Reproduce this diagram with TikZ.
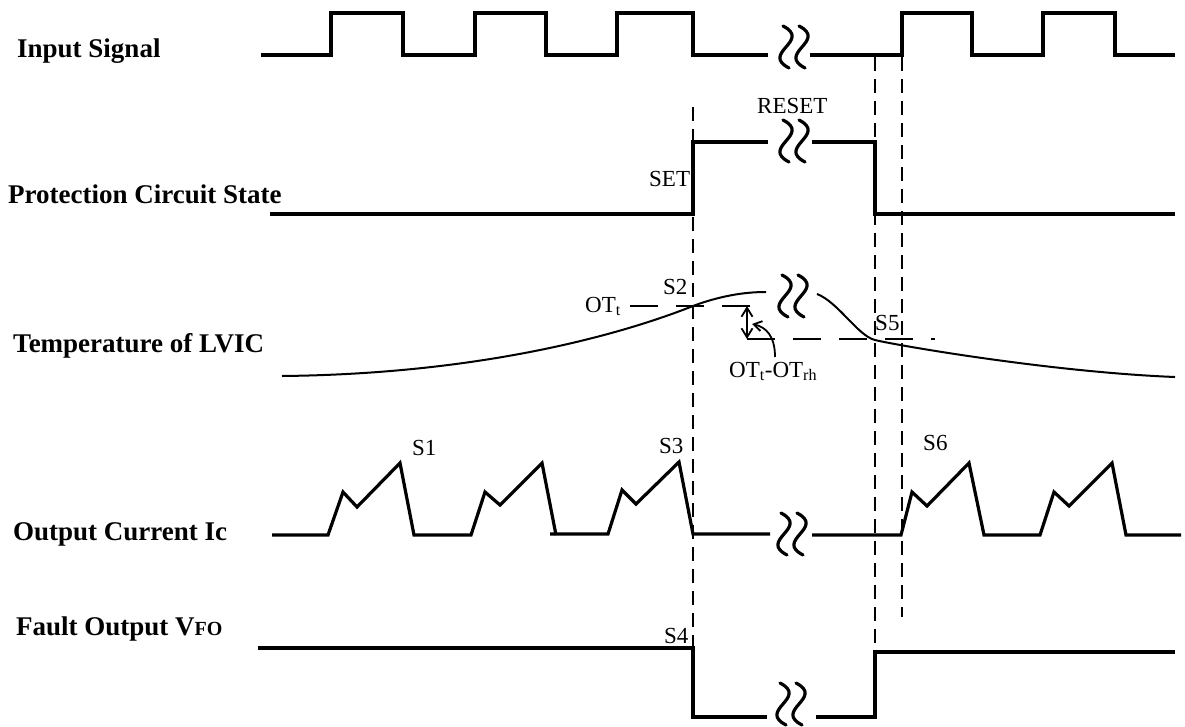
\documentclass[tikz,border=0pt]{standalone}
\usepackage{fontspec}
\setmainfont{Liberation Serif}
\usetikzlibrary{arrows.meta}
\begin{document}
\begin{tikzpicture}[x=1pt,y=-1pt,
  sig/.style={line width=3.2pt,line join=miter},
  temp/.style={line width=2pt},
  vdash/.style={line width=1.8pt,dash pattern=on 14pt off 8pt},
  hdash/.style={line width=2pt,dash pattern=on 28pt off 18pt},
  brkst/.style={line width=3.2pt,line cap=round},
  lbl/.style={font=\fontsize{27}{30}\selectfont\bfseries,anchor=base west,inner sep=0pt},
  ann/.style={font=\fontsize{23}{26}\selectfont,anchor=base west,inner sep=0pt},
  brk/.pic={
    \draw[brkst] (-11,-21) .. controls (18,-6) and (-34,6) .. (-5,21);
    \draw[brkst] (5,-21) .. controls (34,-6) and (-18,6) .. (11,21);
  }]
\useasboundingbox (0,0) rectangle (1185,726);

% labels
\node[lbl] (lin) at (17,57) {Input Signal};
\node[lbl] (lpc) at (8,203) {Protection Circuit State};
\node[lbl] (ltemp) at (13,352) {Temperature of LVIC};
\node[lbl] (lic) at (13,540) {Output Current Ic};
\node[lbl] (lfo) at (16,635) {Fault Output V{\fontsize{20}{22}\selectfont FO}};

% dashed verticals
\draw[vdash] (693,107) -- (693,648);
\draw[vdash] (875,57) -- (875,652);
\draw[vdash] (902,57) -- (902,617);

% input signal
\draw[sig] (261,55) -- (331,55) -- (331,13) -- (403,13) -- (403,55) -- (475,55) -- (475,13) -- (546,13) -- (546,55) -- (617,55) -- (617,13) -- (693,13) -- (693,55) -- (768,55);
\draw[sig] (810,55) -- (902,55) -- (902,13) -- (972,13) -- (972,55) -- (1043,55) -- (1043,13) -- (1115,13) -- (1115,55) -- (1175,55);
\pic at (794,47) {brk};

% protection circuit state
\draw[sig] (270,214) -- (693,214) -- (693,142) -- (768,142);
\draw[sig] (812,142) -- (875,142) -- (875,214) -- (1175,214);
\pic at (794,141) {brk};
\node[ann] (set) at (649,186) {SET};
\node[ann] (reset) at (757,113) {RESET};

% temperature
\draw[temp] (282,376) .. controls (480,374) and (620,335) .. (693,306) .. controls (725,294) and (750,292) .. (766,292);
\draw[temp] (817,294) .. controls (838,302) and (858,336) .. (875,340) .. controls (895,345) and (1050,372) .. (1175,377);
\pic at (793,296) {brk};
\draw[hdash] (750,306) -- (630,306);
\draw[hdash] (747,339) -- (935,339);
\draw[line width=1.8pt,{Straight Barb[length=9pt,width=11pt]}-{Straight Barb[length=9pt,width=11pt]}] (747,306) -- (747,339);
\draw[line width=1.8pt,-{Straight Barb[length=8pt,width=10pt]}] (775,357) .. controls (775,336) and (766,327) .. (752,324);
\node[ann] (ott) at (585,312) {OT\textsubscript{t}};
\node[ann] (s2) at (663,294) {S2};
\node[ann] (s5) at (875,330) {S5};
\node[ann] (otd) at (729,377) {OT\textsubscript{t}-OT\textsubscript{rh}};

% output current
\draw[sig] (272,535) -- (328,535) -- (343,492) -- (357,507) -- (400,463) -- (414,535) -- (471,535) -- (485,492) -- (500,505) -- (542,463) -- (556,535);
\draw[sig] (550,534) -- (608,534) -- (622,490) -- (636,504) -- (679,462) -- (693,534) -- (770,534);
\draw[sig] (812,535) -- (901,535) -- (912,492) -- (927,506) -- (969,463) -- (984,535) -- (1040,535) -- (1054,492) -- (1069,506) -- (1112,463) -- (1126,535) -- (1181,535);
\pic at (792,534) {brk};
\node[ann] (s1) at (412,455) {S1};
\node[ann] (s3) at (659,453) {S3};
\node[ann] (s6) at (923,450) {S6};

% fault output
\draw[sig] (258,648) -- (693,648) -- (693,717) -- (767,717);
\draw[sig] (816,717) -- (875,717) -- (875,652) -- (1175,652);
\pic at (791,704) {brk};
\node[ann] (s4) at (664,643) {S4};
\end{tikzpicture}
\end{document}
